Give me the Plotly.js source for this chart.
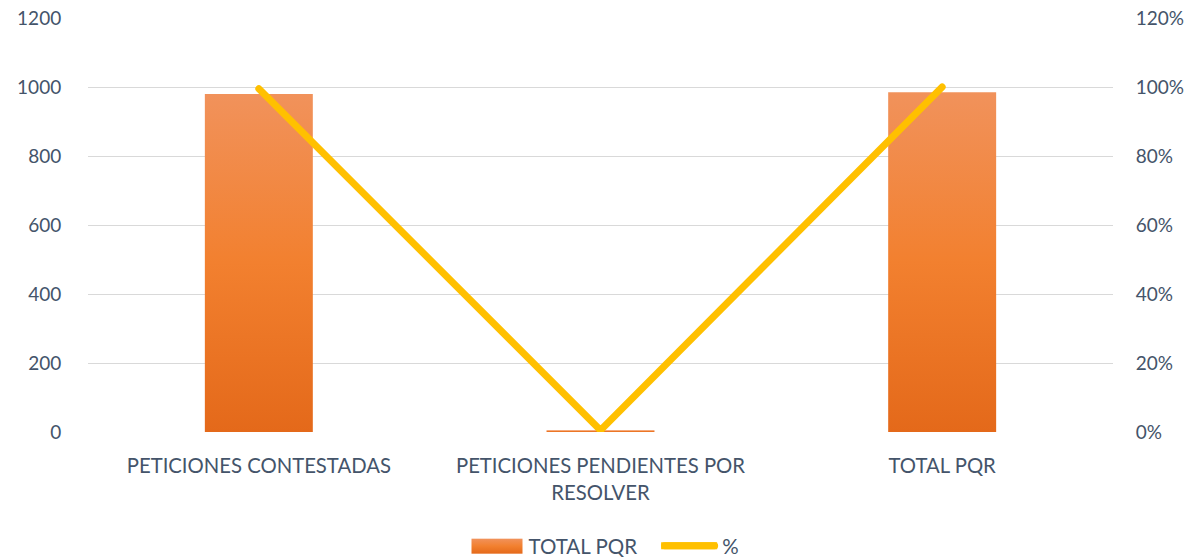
<!DOCTYPE html>
<html><head><meta charset="utf-8">
<script src="https://cdn.plot.ly/plotly-3.0.1.min.js"></script>
<style>html,body{margin:0;padding:0;background:#fff}#chart{width:1193px;height:557px}</style>
</head><body><div id="chart"></div>
<script>
const categories = ["PETICIONES CONTESTADAS", "PETICIONES PENDIENTES POR<br>RESOLVER", "TOTAL PQR"];
const totalPQR = [980, 5, 985];
const percent = [0.995, 0.005, 1.0];
const leftTicks = [0, 200, 400, 600, 800, 1000, 1200];
const rightTicks = [0, 0.2, 0.4, 0.6, 0.8, 1.0, 1.2];

const FONT = "Lato, 'Open Sans', sans-serif";
const TXT = "#44546A";
const tickFont = {family: FONT, size: 19, color: TXT};
const data = [
  {type: "bar", x: categories, y: totalPQR, name: "TOTAL PQR", marker: {color: "#ED7D31"}, width: 0.316, yaxis: "y"},
  {type: "scatter", mode: "lines", x: categories, y: percent, name: "%", yaxis: "y2",
   line: {color: "#FFC000", width: 7}}
];
const layout = {
  width: 1193, height: 557,
  margin: {l: 88, r: 80, t: 18, b: 125, autoexpand: false},
  paper_bgcolor: "#fff", plot_bgcolor: "#fff",
  showlegend: true,
  legend: {orientation: "h", x: 0.5, xref: "container", xanchor: "center", yref: "container", y: 0.02, yanchor: "middle",
    font: {family: FONT, size: 20.5, color: TXT}, itemwidth: 56, tracegroupgap: 0, bgcolor: "rgba(0,0,0,0)"},
  xaxis: {tickfont: {family: FONT, size: 20.3, color: TXT}, showline: false, ticks: "outside", ticklen: 16,
    tickcolor: "rgba(0,0,0,0)", automargin: false},
  yaxis: {range: [0, 1200], tickvals: leftTicks, ticktext: leftTicks.map(String), tickfont: tickFont,
    gridcolor: "#D9D9D9", gridwidth: 1, zeroline: false, ticks: "outside", ticklen: 22, tickcolor: "rgba(0,0,0,0)", automargin: false},
  yaxis2: {range: [0, 1.2], overlaying: "y", side: "right", tickvals: rightTicks, tickformat: ".0%",
    tickfont: tickFont, showgrid: false, zeroline: false, ticks: "outside", ticklen: 18, tickcolor: "rgba(0,0,0,0)", automargin: false},
  bargap: 0.684
};
Plotly.newPlot("chart", data, layout, {displayModeBar: false, staticPlot: true}).then(function (gd) {
  const svg = gd.querySelector("svg.main-svg");
  const ns = "http://www.w3.org/2000/svg";
  let defs = svg.querySelector("defs");
  if (!defs) { defs = document.createElementNS(ns, "defs"); svg.insertBefore(defs, svg.firstChild); }
  const g = document.createElementNS(ns, "linearGradient");
  g.setAttribute("id", "barGrad");
  g.setAttribute("x1", "0"); g.setAttribute("y1", "0"); g.setAttribute("x2", "0"); g.setAttribute("y2", "1");
  [["0", "#F1925B"], ["0.5", "#F2802F"], ["1", "#E4691A"]].forEach(function (s) {
    const st = document.createElementNS(ns, "stop");
    st.setAttribute("offset", s[0]); st.setAttribute("stop-color", s[1]);
    g.appendChild(st);
  });
  defs.appendChild(g);
  gd.querySelectorAll(".barlayer .point path").forEach(function (p) { p.style.fill = "url(#barGrad)"; });
  gd.querySelectorAll(".scatterlayer .js-line").forEach(function (p) { p.style.strokeLinecap = "round"; p.style.strokeLinejoin = "miter"; });
  gd.querySelectorAll(".legend .scrollbox, .legend").forEach(function (e) { e.removeAttribute("clip-path"); e.style.clipPath = "none"; });
  gd.querySelectorAll(".legend .traces").forEach(function (t, i) {
    const txt = t.querySelector("text.legendtext");
    const tx = parseFloat(txt.getAttribute("x"));
    t.querySelectorAll(".legendpoints").forEach(function (lp) { lp.style.display = "none"; });
    if (i === 0) {
      const r = document.createElementNS(ns, "rect");
      r.setAttribute("x", tx - 57); r.setAttribute("y", -7); r.setAttribute("width", 51); r.setAttribute("height", 15);
      r.setAttribute("fill", "url(#barGrad)");
      t.insertBefore(r, t.firstChild);
    } else {
      const l = document.createElementNS(ns, "line");
      l.setAttribute("x1", tx - 57.5); l.setAttribute("x2", tx - 7.5); l.setAttribute("y1", 0); l.setAttribute("y2", 0);
      l.setAttribute("stroke", "#FFC000"); l.setAttribute("stroke-width", 7); l.setAttribute("stroke-linecap", "round");
      t.insertBefore(l, t.firstChild);
      const m = /translate\(\s*([-\d.]+)[ ,]+([-\d.]+)\s*\)/.exec(t.getAttribute("transform") || "");
      if (m) t.setAttribute("transform", "translate(" + (parseFloat(m[1]) + 14) + "," + m[2] + ")");
    }
  });
});
</script></body></html>
